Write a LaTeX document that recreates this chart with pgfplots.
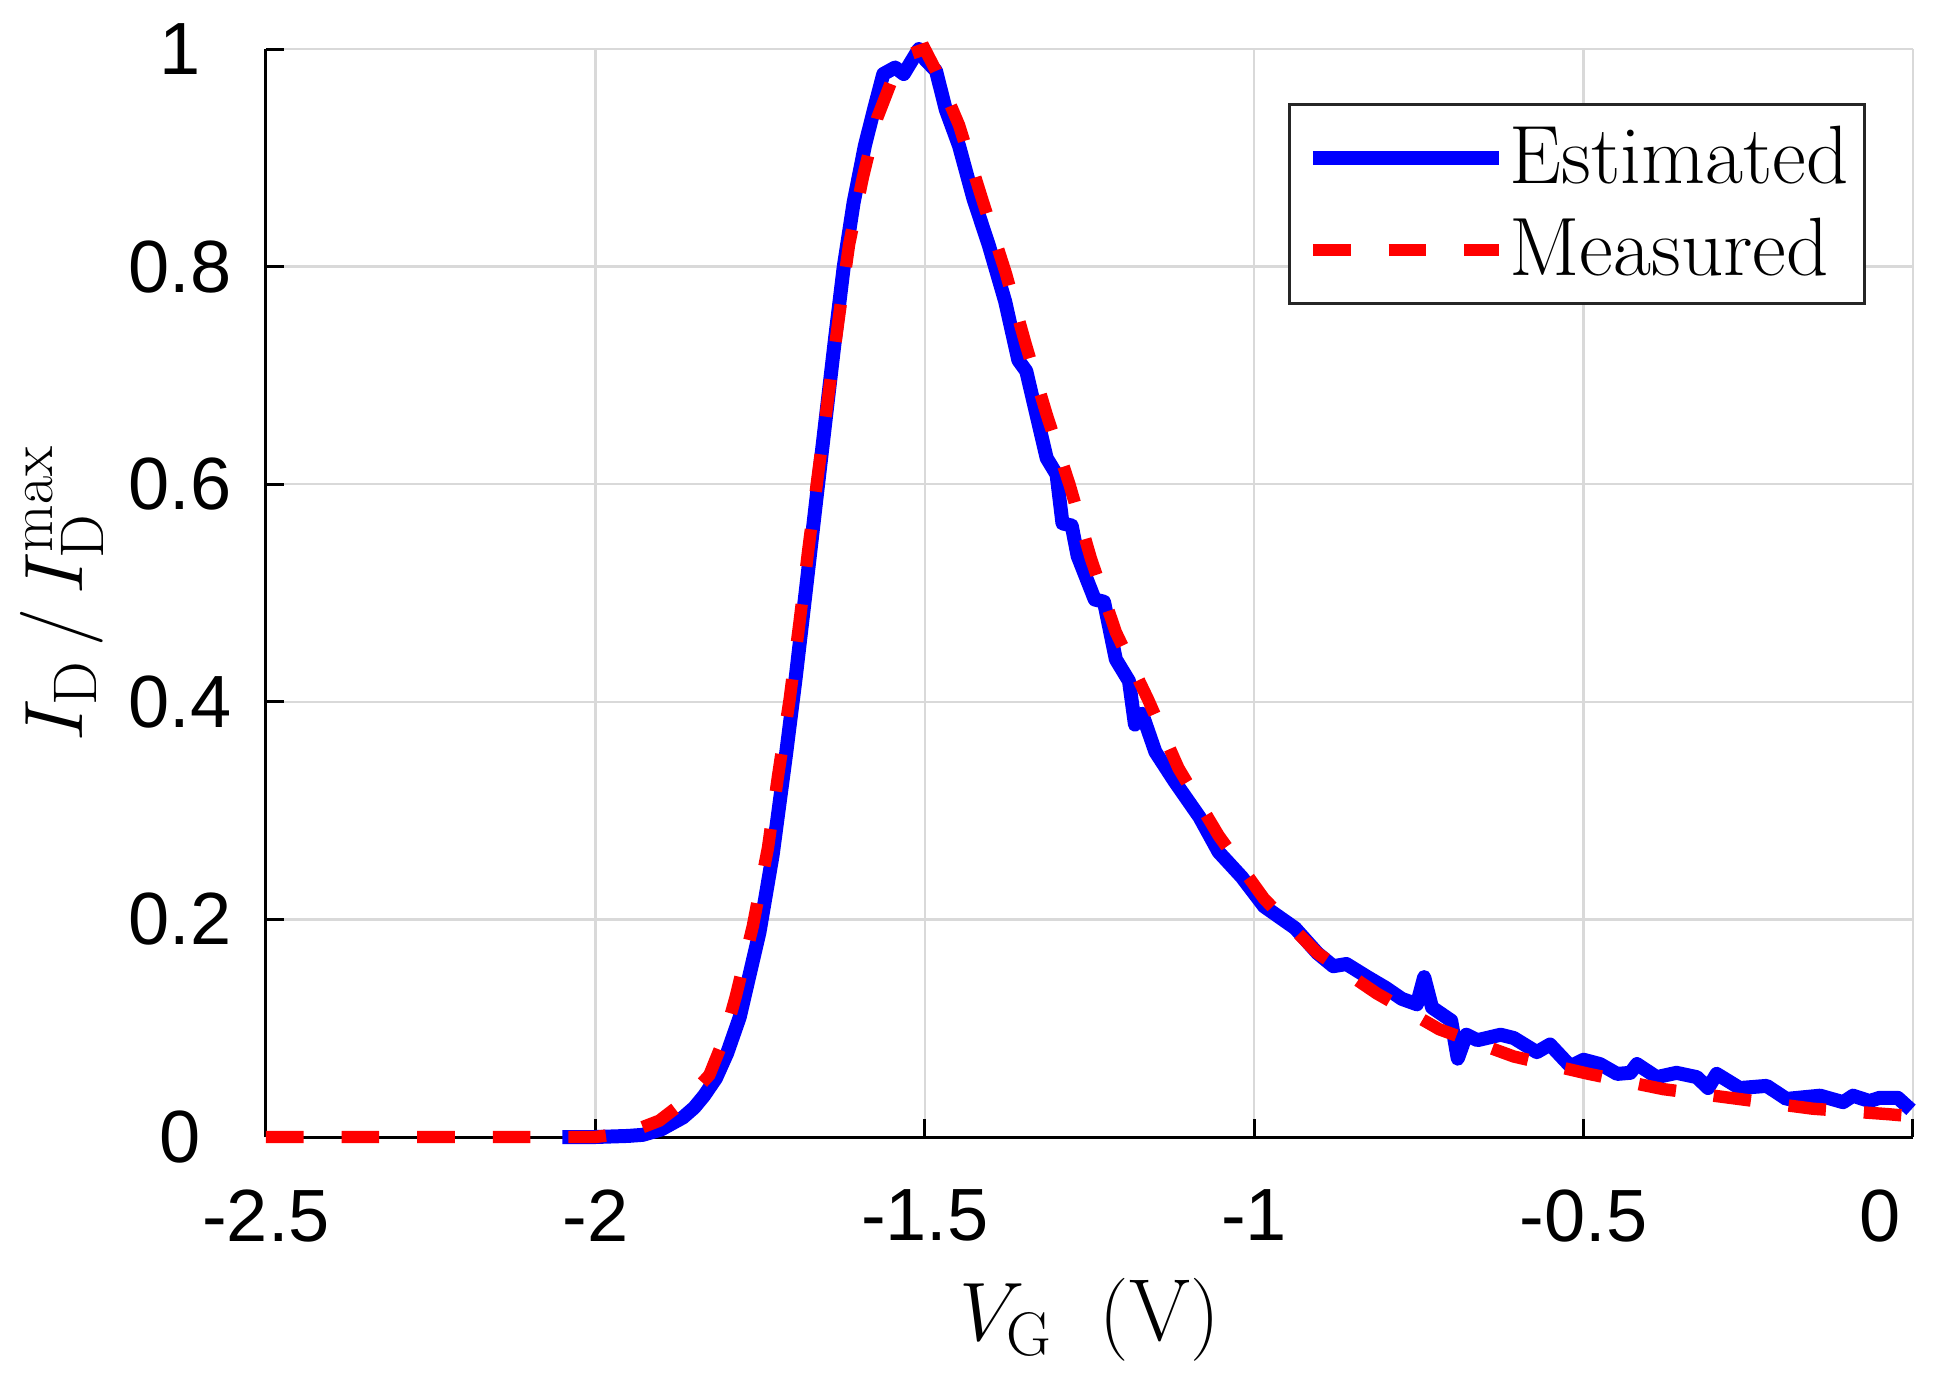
\documentclass[border=0pt]{standalone}
\usepackage{fontspec}
\usepackage{pgfplots}
\pgfplotsset{compat=1.18}
\newfontfamily\tickfont{Liberation Sans}

\definecolor{estblue}{RGB}{0,0,255}
\definecolor{measred}{RGB}{255,0,0}

\begin{document}
\begin{tikzpicture}
\begin{axis}[
  name=ax,
  scale only axis,
  width=411.75pt, height=272pt,
  xmin=-2.5, xmax=0, ymin=0, ymax=1,
  xtick={-2.5,-2,-1.5,-1,-0.5},
  extra x ticks={0},
  extra x tick style={grid=major, xticklabel style={xshift=-8.25pt}},
  ytick={0,0.2,0.4,0.6,0.8,1},
  axis x line*=bottom, axis y line*=left,
  axis line style={-, black, line width=0.75pt},
  tick align=inside,
  major tick length=4.5pt,
  tick style={black, line width=0.75pt},
  grid=major,
  grid style={black!15, line width=0.6pt},
  clip=false,
  /pgf/number format/assume math mode=true,
  tick label style={font=\tickfont\fontsize{18.5}{18.5}\selectfont},
  yticklabel style={inner sep=0pt, anchor=center, xshift=-21.5pt},
  xticklabel style={inner sep=0pt, yshift=-13pt},
  every axis x label/.style={at={(rel axis cs:0.5,0)}, anchor=center, yshift=-45.75pt},
  every axis y label/.style={at={(rel axis cs:0,0.5)}, rotate=90, anchor=center, yshift=51pt},
  label style={font=\fontsize{22}{22}\selectfont},
  xlabel={$V_\mathrm{G}\;\;(\mathrm{V})$},
  ylabel={$I_\mathrm{D}\,/\,I_\mathrm{D}^\mathrm{max}$},
  legend style={at={(rel axis cs:1,1)}, anchor=north east,
    xshift=-11.75pt, yshift=-13.5pt,
    draw=black!85, line width=0.75pt, fill=white,
    inner xsep=4pt, inner ysep=5.4pt,
    nodes={inner sep=0pt}, column sep=0.8pt, row sep=7.2pt,
    font=\fontsize{20.7}{20.7}\selectfont},
  legend cell align=left,
  legend image code/.code={\draw[#1, line cap=butt] (0pt,0pt) -- (46.6pt,0pt);},
]
\addplot[estblue, line width=3.5pt, line join=round] coordinates {
(-2.05,0) (-2.0,0) (-1.95,0.001) (-1.928,0.002) (-1.9,0.007) (-1.867,0.018)
(-1.85,0.027) (-1.835,0.038) (-1.817,0.054) (-1.80,0.077) (-1.781,0.11)
(-1.751,0.188) (-1.731,0.259) (-1.711,0.35)
(-1.696,0.422) (-1.681,0.5) (-1.666,0.579) (-1.651,0.657) (-1.636,0.735)
(-1.623,0.80) (-1.608,0.859) (-1.591,0.911) (-1.576,0.947) (-1.563,0.977)
(-1.545,0.983) (-1.532,0.977) (-1.519,0.99) (-1.509,1.0) (-1.499,0.99)
(-1.483,0.98) (-1.468,0.944) (-1.448,0.911) (-1.426,0.862) (-1.403,0.82)
(-1.378,0.768) (-1.358,0.714) (-1.346,0.704) (-1.315,0.624) (-1.300,0.609)
(-1.291,0.564) (-1.277,0.562) (-1.268,0.534) (-1.242,0.494) (-1.228,0.492)
(-1.210,0.439) (-1.190,0.419) (-1.181,0.379) (-1.170,0.389) (-1.150,0.354)
(-1.121,0.327) (-1.083,0.294) (-1.054,0.262) (-1.019,0.239) (-0.985,0.212)
(-0.938,0.192) (-0.904,0.169) (-0.880,0.157) (-0.860,0.159) (-0.828,0.147)
(-0.800,0.137) (-0.776,0.127) (-0.753,0.122) (-0.742,0.147) (-0.730,0.119)
(-0.701,0.107) (-0.691,0.072) (-0.678,0.094) (-0.661,0.089) (-0.626,0.094)
(-0.606,0.091) (-0.571,0.078) (-0.551,0.085) (-0.520,0.065) (-0.5,0.071)
(-0.475,0.067) (-0.449,0.058) (-0.429,0.059) (-0.419,0.067) (-0.389,0.055)
(-0.359,0.059) (-0.328,0.055) (-0.311,0.045) (-0.298,0.058) (-0.263,0.045)
(-0.222,0.047) (-0.192,0.035) (-0.141,0.038) (-0.106,0.032) (-0.091,0.038)
(-0.066,0.033) (-0.051,0.036) (-0.023,0.036) (-0.003,0.025)
};
\addlegendentry{Estimated}
\addplot[measred, line width=3.1pt, dash pattern=on 9.4pt off 9.5pt] coordinates {
(-2.5,0) (-2.2,0) (-2.0,0) (-1.95,0.004) (-1.903,0.015) (-1.86,0.035)
(-1.827,0.057) (-1.805,0.09) (-1.787,0.129) (-1.761,0.194) (-1.738,0.266)
(-1.723,0.331) (-1.705,0.403) (-1.690,0.474) (-1.677,0.539) (-1.663,0.605)
(-1.646,0.683) (-1.630,0.755) (-1.615,0.82) (-1.594,0.882) (-1.572,0.937)
(-1.549,0.973) (-1.519,0.996) (-1.500,1.0) (-1.483,0.98) (-1.448,0.93)
(-1.413,0.862) (-1.377,0.794) (-1.347,0.729) (-1.315,0.664) (-1.280,0.599)
(-1.248,0.532) (-1.210,0.464) (-1.161,0.402) (-1.115,0.339) (-1.054,0.277)
(-0.985,0.219) (-0.904,0.169) (-0.814,0.132) (-0.719,0.099) (-0.606,0.074)
(-0.492,0.058) (-0.379,0.044) (-0.265,0.035) (-0.152,0.026) (-0.038,0.021)
(0,0.019)
};
\addlegendentry{Measured}
\end{axis}
\pgfresetboundingbox
\path[use as bounding box] ([xshift=-66.5pt,yshift=-61.75pt]ax.south west)
  rectangle ([xshift=6.75pt,yshift=12.25pt]ax.north east);
\end{tikzpicture}
\end{document}
